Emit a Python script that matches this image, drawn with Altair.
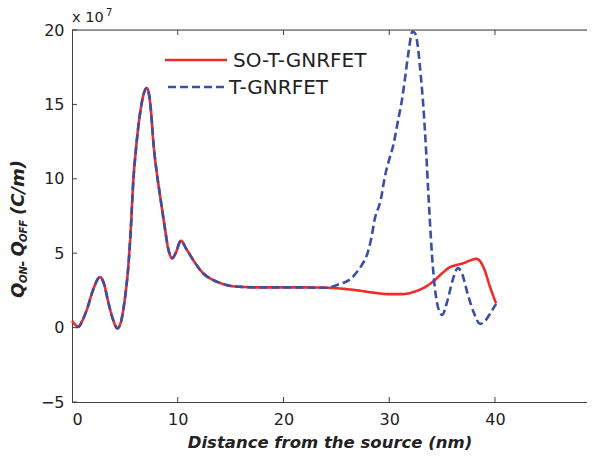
import altair as alt
import pandas as pd

# ---- data ----
x_so = [0.0, 0.3, 0.6, 1.0, 1.4, 2.0, 2.65, 3.0, 3.45, 3.9, 4.28, 4.6, 4.85, 5.1, 5.3, 5.55, 5.8,
        6.05, 6.27, 6.5, 6.74, 7.06, 7.3, 7.5, 7.7, 8.0, 8.3, 8.55, 8.8, 9.1, 9.48, 9.8, 10.3,
        10.8, 11.5, 12.4, 13.2, 14.0, 15.0, 16.0, 18.0, 20.0, 22.0, 24.0, 25.5, 27.0, 28.5,
        30.0, 31.3, 32.3, 33.2, 34.15, 35.0, 35.7, 36.3, 37.0, 37.6, 38.25, 38.6, 39.0, 39.5, 40.1]
y_so = [0.45, 0.2, 0.05, 0.5, 1.2, 2.55, 3.4, 3.0, 1.65, 0.5, -0.05, 0.3, 1.2, 2.5, 3.9, 6.5, 9.9,
        12.0, 13.5, 14.7, 15.6, 16.1, 15.6, 14.3, 12.4, 10.5, 9.0, 7.8, 6.6, 5.3, 4.66, 5.0, 5.84,
        5.3, 4.5, 3.65, 3.25, 3.0, 2.8, 2.74, 2.7, 2.7, 2.7, 2.68, 2.62, 2.5, 2.35,
        2.25, 2.25, 2.4, 2.65, 3.1, 3.65, 4.05, 4.2, 4.32, 4.5, 4.62, 4.45, 3.9, 2.8, 1.63]

x_t = [0.4, 0.6, 1.0, 1.4, 2.0, 2.65, 3.0, 3.45, 3.9, 4.28, 4.6, 4.85, 5.1, 5.3, 5.55, 5.8,
       6.05, 6.27, 6.5, 6.74, 7.06, 7.3, 7.5, 7.7, 8.0, 8.3, 8.55, 8.8, 9.1, 9.48, 9.8, 10.3,
       10.8, 11.5, 12.4, 13.2, 14.0, 15.0, 16.0, 18.0, 20.0, 22.0, 24.0, 24.6, 25.2, 25.8, 26.4,
       26.9, 27.4, 27.9, 28.3, 28.6, 29.2, 29.6, 30.0, 30.4, 30.8, 31.2, 31.5, 31.8, 32.2, 32.5,
       32.7, 33.0, 33.2, 33.5, 33.7, 33.84, 34.05, 34.3, 34.6, 35.0, 35.5, 36.0, 36.5, 36.9,
       37.4, 38.0, 38.6, 39.0, 39.5, 40.1]
y_t = [0.02, 0.05, 0.5, 1.2, 2.55, 3.4, 3.0, 1.65, 0.5, -0.05, 0.3, 1.2, 2.5, 3.9, 6.5, 9.9,
       12.0, 13.5, 14.7, 15.6, 16.1, 15.6, 14.3, 12.4, 10.5, 9.0, 7.8, 6.6, 5.3, 4.66, 5.0, 5.84,
       5.3, 4.5, 3.65, 3.25, 3.0, 2.8, 2.74, 2.7, 2.7, 2.7, 2.68, 2.75, 2.9, 3.05, 3.3,
       3.7, 4.2, 4.9, 6.0, 7.2, 8.6, 10.2, 11.3, 12.3, 13.8, 15.3, 16.8, 18.4, 19.9, 19.7,
       18.9, 16.8, 15.1, 11.7, 9.0, 7.2, 4.8, 2.75, 1.4, 0.85, 1.8, 3.2, 4.0, 3.6,
       2.3, 1.0, 0.25, 0.4, 0.9, 1.6]

series = ["SO-T-GNRFET", "T-GNRFET"]
colors = ["#f22a2a", "#3a4fa6"]
x_ticks = [0, 10, 20, 30, 40]
y_ticks = [-5, 0, 5, 10, 15, 20]

W, H = 515, 372
FONT = "DejaVu Sans"

df = pd.concat([
    pd.DataFrame({"x": x_so, "y": y_so, "s": series[0], "o": range(len(x_so))}),
    pd.DataFrame({"x": x_t, "y": y_t, "s": series[1], "o": range(len(x_t))}),
])

xs = alt.Scale(domain=[0, 48.7], nice=False, zero=False)
ys = alt.Scale(domain=[-5, 20], nice=False, zero=False)

lines = alt.Chart(df).mark_line(strokeWidth=2.6, interpolate="monotone").encode(
    x=alt.X("x:Q", scale=xs, axis=alt.Axis(
        values=x_ticks, ticks=False, grid=False, format="d",
        labelFont=FONT, labelFontSize=16, labelColor="#222", labelPadding=9,
        domainColor="#404040", domainWidth=1,
        title="Distance from the source (nm)", titleFont=FONT, titleFontSize=16.5,
        titleFontWeight="bold", titleFontStyle="italic", titleColor="#222", titlePadding=7)),
    y=alt.Y("y:Q", scale=ys, axis=alt.Axis(
        values=y_ticks, ticks=False, grid=False, format="d",
        labelFont=FONT, labelFontSize=16, labelColor="#222", labelPadding=8,
        domainColor="#404040", domainWidth=1, title=None)),
    color=alt.Color("s:N", scale=alt.Scale(domain=series, range=colors), legend=None),
    strokeDash=alt.StrokeDash("s:N", scale=alt.Scale(domain=series, range=[[1, 0], [8, 4]]), legend=None),
    order="o:Q",
)

tdx = pd.DataFrame({"v": x_ticks[1:]})
tdy = pd.DataFrame({"v": y_ticks})
tick_style = dict(color="#404040", strokeWidth=1)
ticks_bottom = alt.Chart(tdx).mark_rule(**tick_style).encode(
    x=alt.X("v:Q", scale=xs), y=alt.value(H), y2=alt.value(H - 5))
ticks_top = alt.Chart(tdx).mark_rule(**tick_style).encode(
    x=alt.X("v:Q", scale=xs), y=alt.value(0), y2=alt.value(5))
ticks_left = alt.Chart(tdy).mark_rule(**tick_style).encode(
    y=alt.Y("v:Q", scale=ys), x=alt.value(0), x2=alt.value(5))

one = pd.DataFrame({"a": [0]})
top_line = alt.Chart(one).mark_rule(**tick_style).encode(
    x=alt.value(0), x2=alt.value(W), y=alt.value(0))

# legend
leg_red = alt.Chart(one).mark_rule(color=colors[0], strokeWidth=2.6).encode(
    x=alt.value(93), x2=alt.value(155), y=alt.value(30))
leg_blue = alt.Chart(one).mark_rule(color=colors[1], strokeWidth=2.6, strokeDash=[8, 4]).encode(
    x=alt.value(96), x2=alt.value(155), y=alt.value(57))
leg_t1 = alt.Chart(one).mark_text(text=series[0], font=FONT, fontSize=20, align="left",
                                  baseline="middle", color="#222").encode(
    x=alt.value(161), y=alt.value(31))
leg_t2 = alt.Chart(one).mark_text(text=series[1], font=FONT, fontSize=20, align="left",
                                  baseline="middle", color="#222").encode(
    x=alt.value(157), y=alt.value(58))

# y title with subscripts
def seg(txt, size, xb, ystart):
    return alt.Chart(one).mark_text(text=txt, font=FONT, fontSize=size, fontWeight="bold",
                                    fontStyle="italic", angle=270, align="left",
                                    baseline="alphabetic", color="#222").encode(
        x=alt.value(xb), y=alt.value(ystart))

main_b = -48.5
sub_b = -45.5
ytitle = [
    seg("Q", 18, main_b, 268),
    seg("ON", 10, sub_b, 253),
    seg("\u2010", 14, sub_b, 236.5),
    seg("Q", 18, main_b, 226.5),
    seg("OFF", 10, sub_b, 212),
    seg("(C/m)", 18, main_b, 185),
]

exp_main = alt.Chart(one).mark_text(text="x 10", font=FONT, fontSize=14.5, align="left",
                                    baseline="alphabetic", color="#222").encode(
    x=alt.value(0), y=alt.value(-8))
exp_sup = alt.Chart(one).mark_text(text="7", font=FONT, fontSize=10, align="left",
                                   baseline="alphabetic", color="#222").encode(
    x=alt.value(34), y=alt.value(-14))

chart = alt.layer(
    lines, ticks_bottom, ticks_top, ticks_left, top_line,
    leg_red, leg_blue, leg_t1, leg_t2, *ytitle, exp_main, exp_sup
).properties(
    width=W, height=H,
    autosize=alt.AutoSizeParams(type="none"),
    padding={"left": 64, "top": 22, "right": 0, "bottom": 48},
).configure_view(stroke=None).configure(background="white")

chart.save("out.html", embed_options={"renderer": "svg", "actions": False})
